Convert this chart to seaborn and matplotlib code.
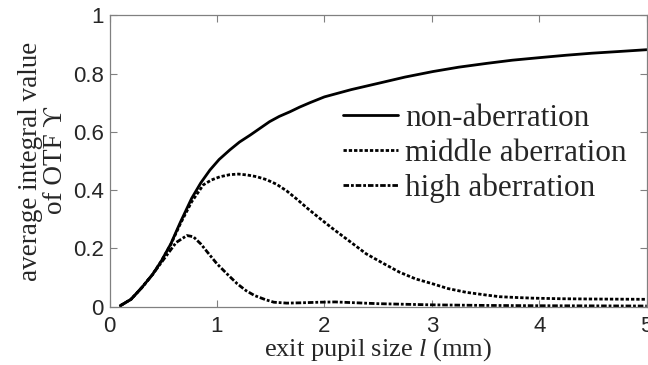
import matplotlib
matplotlib.use("Agg")
import matplotlib.pyplot as plt
import seaborn as sns

# ---- data ----
x_non = [0.10, 0.20, 0.30, 0.40, 0.48, 0.57, 0.66, 0.765, 0.85, 0.935, 1.02, 1.12, 1.21, 1.31, 1.40,
         1.49, 1.58, 1.68, 1.77, 1.865, 2.00, 2.25, 2.53, 2.75, 3.01, 3.25, 3.51, 3.75, 4.01, 4.25,
         4.49, 4.75, 5.00]
y_non = [0.003, 0.025, 0.065, 0.110, 0.155, 0.215, 0.290, 0.372, 0.425, 0.469, 0.505, 0.538, 0.565, 0.589, 0.612,
         0.635, 0.653, 0.669, 0.685, 0.700, 0.720, 0.745, 0.769, 0.788, 0.807, 0.822, 0.835, 0.846, 0.855, 0.863,
         0.870, 0.876, 0.882]

x_mid = [0.10, 0.20, 0.30, 0.40, 0.48, 0.57, 0.66, 0.765, 0.873, 0.95, 1.03, 1.12, 1.20, 1.28, 1.37,
         1.46, 1.555, 1.65, 1.74, 1.85, 1.95, 2.08, 2.25, 2.39, 2.55, 2.70, 2.85, 3.01, 3.15, 3.32,
         3.50, 3.63, 3.80, 3.94, 4.20, 4.50, 5.00]
y_mid = [0.003, 0.025, 0.065, 0.110, 0.155, 0.213, 0.285, 0.360, 0.418, 0.435, 0.446, 0.453, 0.455, 0.452, 0.446,
         0.436, 0.420, 0.397, 0.370, 0.335, 0.305, 0.267, 0.220, 0.181, 0.148, 0.118, 0.095, 0.078, 0.062, 0.049,
         0.040, 0.034, 0.031, 0.029, 0.027, 0.026, 0.025]

x_high = [0.10, 0.20, 0.30, 0.40, 0.54, 0.62, 0.72, 0.78, 0.85, 0.92, 1.00, 1.10, 1.19, 1.27, 1.35,
          1.45, 1.53, 1.65, 1.78, 1.95, 2.10, 2.30, 2.50, 3.00, 3.50, 4.00, 5.00]
y_high = [0.003, 0.025, 0.065, 0.110, 0.180, 0.220, 0.244, 0.240, 0.215, 0.183, 0.147, 0.110, 0.078, 0.055, 0.038,
          0.024, 0.015, 0.012, 0.013, 0.015, 0.016, 0.013, 0.010, 0.006, 0.004, 0.003, 0.002]

labels = ["non-aberration", "middle aberration", "high aberration"]
x_ticks = [0, 1, 2, 3, 4, 5]
y_ticks = [0, 0.2, 0.4, 0.6, 0.8, 1]
y_tick_labels = ["0", "0.2", "0.4", "0.6", "0.8", "1"]

sns.set_style("ticks")
plt.rcParams["font.family"] = ["Liberation Sans", "DejaVu Sans"]
plt.rcParams["mathtext.fontset"] = "custom"
plt.rcParams["mathtext.rm"] = "Liberation Serif"
plt.rcParams["mathtext.it"] = "Liberation Serif:italic"

fig = plt.figure(figsize=(6.48, 3.65), dpi=100)
ax = fig.add_axes([0.169, 0.160, 0.829, 0.798])

sns.lineplot(x=x_non, y=y_non, ax=ax, color="black", linewidth=2.0, label=labels[0])
sns.lineplot(x=x_mid, y=y_mid, ax=ax, color="black", linewidth=2.0, linestyle=(0, (1.2, 0.7)), label=labels[1])
sns.lineplot(x=x_high, y=y_high, ax=ax, color="black", linewidth=2.0, linestyle=(0, (2.0, 0.7, 1.0, 0.7)), label=labels[2])

ax.set_xlim(0, 5)
ax.set_ylim(0, 1)
ax.set_xticks(x_ticks)
ax.set_yticks(y_ticks)
ax.set_yticklabels(y_tick_labels)
ax.tick_params(direction="in", length=5, width=0.8, color="#808080", labelsize=16,
               top=True, right=True)
ax.tick_params(axis="x", pad=7)
ax.tick_params(axis="y", pad=4)
for s in ax.spines.values():
    s.set_color("#808080")
    s.set_linewidth(0.9)

serif = ["Liberation Serif", "DejaVu Serif"]
ax.set_xlabel("exit pupil size $l$ (mm)", fontsize=19, family=serif, labelpad=-1)
ax.set_ylabel("average integral value\nof OTF \u03d2", fontsize=19.5, family=serif, labelpad=4,
              linespacing=0.95)

leg = ax.legend(loc="upper left", bbox_to_anchor=(0.435, 0.696), frameon=False,
                prop={"family": serif, "size": 22.5}, handlelength=1.75, handletextpad=0.22,
                labelspacing=0.19, borderpad=0, borderaxespad=0)

fig.savefig("out.png", dpi=100)
